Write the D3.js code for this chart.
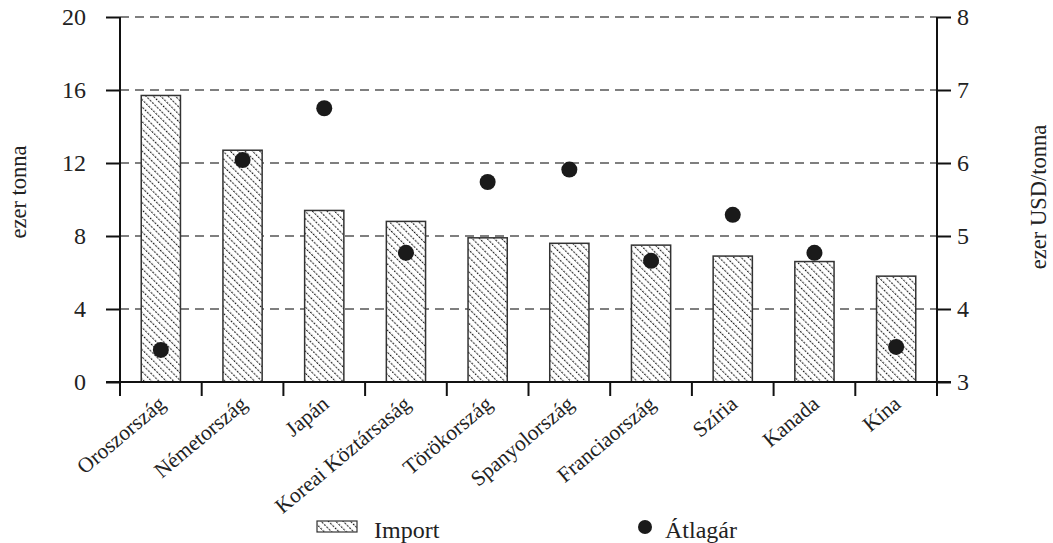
<!DOCTYPE html>
<html>
<head>
<meta charset="utf-8">
<script src="https://cdn.jsdelivr.net/npm/d3@7"></script>
<style>
  html, body { margin: 0; padding: 0; background: #fff; }
  svg { display: block; }
  text { font-family: "Liberation Serif", "Times New Roman", serif; fill: #222; }
</style>
</head>
<body>
<svg id="chart" width="1053" height="543"></svg>
<script>
// Import volume (thousand tonnes) and average price (thousand USD / tonne)
const countries = ["Oroszország", "Németország", "Japán", "Koreai Köztársaság", "Törökország",
                   "Spanyolország", "Franciaország", "Szíria", "Kanada", "Kína"];
const importValues = [15.7, 12.7, 9.4, 8.8, 7.9, 7.6, 7.5, 6.9, 6.6, 5.8];
const avgPrice = [3.44, 6.04, 6.75, 4.77, 5.74, 5.91, 4.66, 5.29, 4.77, 3.48];
const leftTicks = [0, 4, 8, 12, 16, 20];
const rightTicks = [3, 4, 5, 6, 7, 8];

const svg = d3.select("#chart");
const m = { left: 120, right: 937, top: 17, bottom: 382 };

const x = d3.scaleBand().domain(countries).range([m.left, m.right]).paddingInner(0).paddingOuter(0);
const yL = d3.scaleLinear().domain([0, 20]).range([m.bottom, m.top]);
const yR = d3.scaleLinear().domain([3, 8]).range([m.bottom, m.top]);

// diagonal hatch fill (dotted strokes running top-left to bottom-right)
const defs = svg.append("defs");
const pat = defs.append("pattern")
  .attr("id", "hatch").attr("patternUnits", "userSpaceOnUse")
  .attr("width", 20).attr("height", 5.2)
  .attr("patternTransform", "rotate(45)");
pat.append("rect").attr("width", 20).attr("height", 5.2).attr("fill", "#fff");
pat.append("line").attr("x1", 0).attr("x2", 20).attr("y1", 1.2).attr("y2", 1.2)
  .attr("stroke", "#1a1a1a").attr("stroke-width", 1.1).attr("stroke-dasharray", "2,1.333");

// dashed gridlines
svg.append("g").selectAll("line").data(leftTicks.filter(d => d > 0)).join("line")
  .attr("x1", m.left).attr("x2", m.right)
  .attr("y1", d => yL(d)).attr("y2", d => yL(d))
  .attr("stroke", "#555").attr("stroke-width", 1.5).attr("stroke-dasharray", "9,6");

// bars
const bw = x.bandwidth() * 0.48;
svg.append("g").selectAll("rect").data(countries).join("rect")
  .attr("x", d => x(d) + (x.bandwidth() - bw) / 2)
  .attr("width", bw)
  .attr("y", (d, i) => yL(importValues[i]))
  .attr("height", (d, i) => yL(0) - yL(importValues[i]))
  .attr("fill", "url(#hatch)").attr("stroke", "#333").attr("stroke-width", 1.5);

// average price points
svg.append("g").selectAll("circle").data(countries).join("circle")
  .attr("cx", d => x(d) + x.bandwidth() / 2)
  .attr("cy", (d, i) => yR(avgPrice[i]))
  .attr("r", 8).attr("fill", "#1a1a1a");

// left axis
const gL = svg.append("g").attr("transform", `translate(${m.left},0)`)
  .call(d3.axisLeft(yL).tickValues(leftTicks).tickSize(14).tickPadding(20).tickFormat(d3.format("d")));
// right axis
const gR = svg.append("g").attr("transform", `translate(${m.right},0)`)
  .call(d3.axisRight(yR).tickValues(rightTicks).tickSize(14).tickPadding(6).tickFormat(d3.format("d")));
[gL, gR].forEach(g => {
  g.select(".domain").attr("stroke", "#111").attr("stroke-width", 2).attr("d", `M0,${m.top}V${m.bottom + 13}`);
  g.selectAll(".tick line").attr("stroke", "#111").attr("stroke-width", 2);
  g.selectAll(".tick text").style("font-family", "Liberation Serif, serif").style("font-size", "24px").attr("fill", "#222");
});

// bottom axis with ticks at category boundaries
const gB = svg.append("g").attr("transform", `translate(0,${m.bottom})`);
gB.append("line").attr("x1", m.left - 14).attr("x2", m.right + 14).attr("stroke", "#111").attr("stroke-width", 2);
const bounds = countries.map(d => x(d)).concat([m.right]);
gB.selectAll("line.tk").data(bounds).join("line").attr("class", "tk")
  .attr("x1", d => d).attr("x2", d => d).attr("y1", 0).attr("y2", 14)
  .attr("stroke", "#111").attr("stroke-width", 2);
gB.selectAll("text").data(countries).join("text")
  .attr("transform", d => `translate(${x(d) + x.bandwidth() / 2 + 6},${24}) rotate(-40)`)
  .attr("text-anchor", "end")
  .style("font-size", "21.5px")
  .text(d => d);

// axis titles
svg.append("text").attr("transform", "translate(26,192) rotate(-90)")
  .attr("text-anchor", "middle").style("font-size", "22.5px").text("ezer tonna");
svg.append("text").attr("transform", "translate(1046,197) rotate(-90)")
  .attr("text-anchor", "middle").style("font-size", "22.5px").text("ezer USD/tonna");

// legend
const lg = svg.append("g");
lg.append("rect").attr("x", 317).attr("y", 521).attr("width", 40).attr("height", 11)
  .attr("fill", "url(#hatch)").attr("stroke", "#333").attr("stroke-width", 1.2);
lg.append("text").attr("x", 374).attr("y", 538).style("font-size", "24px").text("Import");
lg.append("circle").attr("cx", 645).attr("cy", 527).attr("r", 7).attr("fill", "#1a1a1a");
lg.append("text").attr("x", 665).attr("y", 538).style("font-size", "24px").text("Átlagár");
</script>
</body>
</html>
